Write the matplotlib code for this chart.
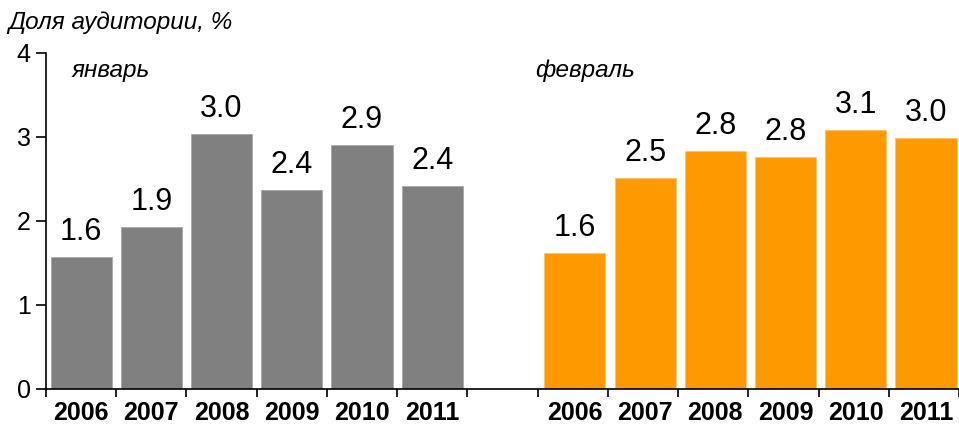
import matplotlib.pyplot as plt
import numpy as np

plt.rcParams['font.family'] = ['Liberation Sans', 'DejaVu Sans']

years = ['2006', '2007', '2008', '2009', '2010', '2011']
jan_values = [1.57, 1.93, 3.04, 2.37, 2.90, 2.42]
feb_values = [1.62, 2.51, 2.83, 2.76, 3.08, 2.99]
jan_labels = ['1.6', '1.9', '3.0', '2.4', '2.9', '2.4']
feb_labels = ['1.6', '2.5', '2.8', '2.8', '3.1', '3.0']

jan_x = np.arange(len(years))
feb_x = np.arange(len(years)) + 7.03

fig = plt.figure(figsize=(9.59, 4.30), dpi=100)
ax = fig.add_axes([46 / 959, 41 / 430, 1 - 46 / 959, 336 / 430])

ax.bar(jan_x, jan_values, width=0.87, color='#808080', edgecolor='#a8a8a8', linewidth=0.6)
ax.bar(feb_x, feb_values, width=0.87, color='#ff9900', edgecolor='#ffc266', linewidth=0.6)

for x, v, lab in zip(jan_x, jan_values, jan_labels):
    ax.text(x, v + 0.12, lab, ha='center', va='bottom', fontsize=22)
for x, v, lab in zip(feb_x, feb_values, feb_labels):
    ax.text(x, v + 0.12, lab, ha='center', va='bottom', fontsize=22)

ax.set_xlim(-0.5, 12.45)
ax.set_ylim(0, 4)
ax.set_yticks([0, 1, 2, 3, 4])
ax.tick_params(axis='y', labelsize=18, length=7, width=1.2, pad=4, direction='out')

ax.set_xticks(list(jan_x) + list(feb_x))
ax.set_xticklabels(years + years, fontsize=18, fontweight='bold')
ax.tick_params(axis='x', length=0, pad=9)
ax.set_xticks(np.arange(-0.5, 13, 1), minor=True)
ax.tick_params(axis='x', which='minor', length=6, width=1.2, direction='out')

for side in ['top', 'right']:
    ax.spines[side].set_visible(False)
ax.spines['left'].set_linewidth(1.2)
ax.spines['bottom'].set_linewidth(1.2)

fig.text(8 / 959, 1 - 22 / 430, 'Доля аудитории, %', fontsize=17.5, style='italic', va='center', ha='left')
fig.text(72 / 959, 1 - 70 / 430, 'январь', fontsize=17.5, style='italic', va='center', ha='left')
fig.text(535 / 959, 1 - 70 / 430, 'февраль', fontsize=17.5, style='italic', va='center', ha='left')

fig.savefig('out.png', dpi=100)
